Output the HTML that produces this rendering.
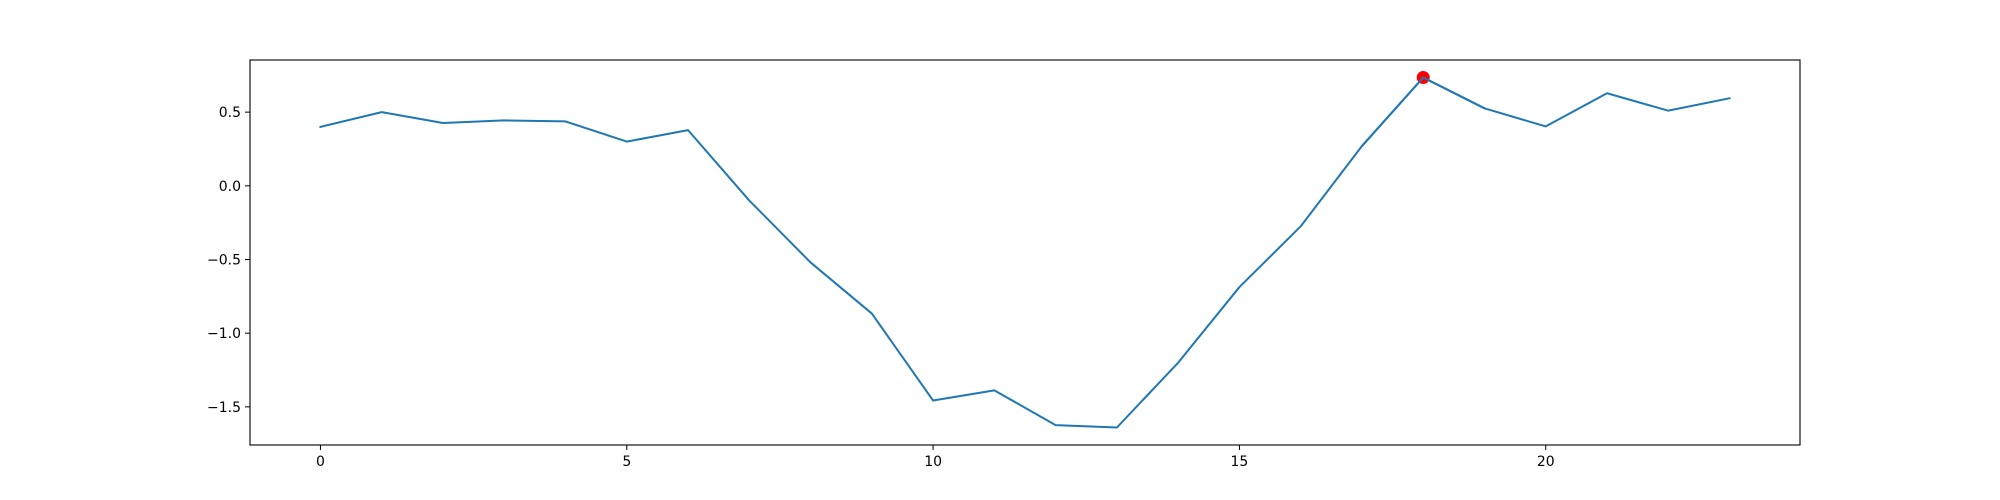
<!DOCTYPE html>
<html><head><meta charset="utf-8"><style>
html,body{margin:0;padding:0;background:#fff;}
svg{display:block;font-family:"DejaVu Sans","Liberation Sans",sans-serif;}
</style></head><body>
<svg id="chart" width="2000" height="500" viewBox="0 0 2000 500" xmlns="http://www.w3.org/2000/svg">
<rect x="0" y="0" width="2000" height="500" fill="#fff"/>
<g id="plot"></g>
</svg>
<script>
const xValues = [0,1,2,3,4,5,6,7,8,9,10,11,12,13,14,15,16,17,18,19,20,21,22,23];
const yValues = [0.40,0.50,0.426,0.444,0.437,0.30,0.378,-0.10,-0.52,-0.867,-1.457,-1.388,-1.624,-1.64,-1.20,-0.687,-0.275,0.27,0.735,0.526,0.403,0.628,0.51,0.594];
const xTicks = [0,5,10,15,20];
const yTicks = [0.5,0.0,-0.5,-1.0,-1.5];
const yTickLabels = ["0.5","0.0","\u22120.5","\u22121.0","\u22121.5"];

const L=250,R=1800,T=60,B=445;
const xmin=Math.min(...xValues),xmax=Math.max(...xValues);
const ymin=Math.min(...yValues),ymax=Math.max(...yValues);
const xm=(xmax-xmin)*0.05,ym=(ymax-ymin)*0.05;
const x0=xmin-xm,x1=xmax+xm,y0=ymin-ym,y1=ymax+ym;
function sx(v){return L+(v-x0)/(x1-x0)*(R-L);}
function sy(v){return B-(v-y0)/(y1-y0)*(B-T);}
const NS="http://www.w3.org/2000/svg";
const g=document.getElementById('plot');
function mk(tag,attrs){const e=document.createElementNS(NS,tag);for(const k in attrs)e.setAttribute(k,attrs[k]);g.appendChild(e);return e;}

let d="";
xValues.forEach((x,i)=>{d+=(i?"L":"M")+sx(x).toFixed(2)+","+sy(yValues[i]).toFixed(2);});
const line=mk('path',{d:d,fill:'none',stroke:'#1f77b4','stroke-width':2,'stroke-linejoin':'round','stroke-linecap':'square'});



let mi=0;yValues.forEach((v,i)=>{if(v>yValues[mi])mi=i;});
const dot=mk('circle',{cx:sx(xValues[mi]),cy:sy(yValues[mi]),r:6.5,fill:'red'});


const line2=mk('path',{d:"M"+sx(xValues[mi-1])+","+sy(yValues[mi-1])+"L"+sx(xValues[mi])+","+sy(yValues[mi])+"L"+sx(xValues[mi+1])+","+sy(yValues[mi+1]),fill:'none',stroke:'#1f77b4','stroke-width':2});



const frame=mk('rect',{x:L,y:T,width:R-L,height:B-T,fill:'none',stroke:'#000','stroke-width':1.1});



xTicks.forEach(t=>{
  const X=sx(t);
  const tk=mk('line',{x1:X,y1:B,x2:X,y2:B+5,stroke:'#000','stroke-width':1});
  
  
  const tx=mk('text',{x:X,y:B+21,'text-anchor':'middle','font-size':14,fill:'#000'});
  tx.textContent=String(t);
  
  
});
yTicks.forEach((t,i)=>{
  const Y=sy(t);
  const tk=mk('line',{x1:L-5,y1:Y,x2:L,y2:Y,stroke:'#000','stroke-width':1});
  
  
  const tx=mk('text',{x:L-9,y:Y+5,'text-anchor':'end','font-size':14,fill:'#000'});
  tx.textContent=yTickLabels[i];
  
  
});
</script>
</body></html>
